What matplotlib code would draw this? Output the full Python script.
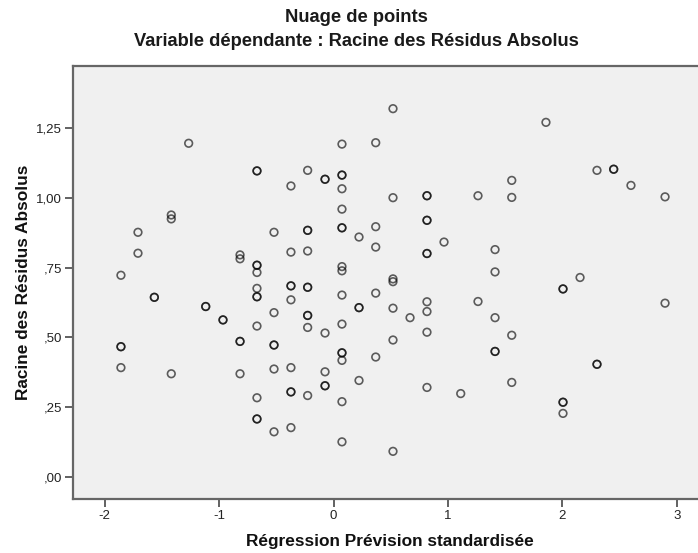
import matplotlib
matplotlib.use("Agg")
import matplotlib.pyplot as plt

title = "Nuage de points"
subtitle = "Variable dépendante : Racine des Résidus Absolus"
x_label = "Régression Prévision standardisée"
y_label = "Racine des Résidus Absolus"

x_ticks = [-2, -1, 0, 1, 2, 3]
x_tick_labels = ["-2", "-1", "0", "1", "2", "3"]
y_ticks = [0.0, 0.25, 0.5, 0.75, 1.0, 1.25]
y_tick_labels = [",00", ",25", ",50", ",75", "1,00", "1,25"]

# Standardized predicted values (distinct columns) and the
# sqrt(|residual|) values observed at each (repeats = overlapping points)
pred_columns = [
    -1.858, -1.709, -1.566, -1.418, -1.266, -1.117, -0.966, -0.817,
    -0.669, -0.520, -0.372, -0.226, -0.074, 0.074, 0.223, 0.369,
    0.520, 0.669, 0.817, 0.966, 1.112, 1.263, 1.412, 1.558,
    1.857, 2.006, 2.155, 2.303, 2.449, 2.600, 2.898,
]
resid_values = [
    [0.723, 0.467, 0.467, 0.392],
    [0.877, 0.802],
    [0.644, 0.644],
    [0.939, 0.925, 0.370],
    [1.196],
    [0.611, 0.611],
    [0.563, 0.563],
    [0.796, 0.782, 0.486, 0.486, 0.370],
    [1.097, 1.097, 0.759, 0.759, 0.733, 0.676, 0.646, 0.646, 0.541, 0.284, 0.208, 0.208],
    [0.877, 0.589, 0.473, 0.473, 0.387, 0.162],
    [1.043, 0.806, 0.685, 0.685, 0.635, 0.392, 0.305, 0.305, 0.177],
    [1.099, 0.884, 0.884, 0.810, 0.680, 0.680, 0.579, 0.579, 0.536, 0.292],
    [1.067, 1.067, 0.516, 0.377, 0.327, 0.327],
    [1.193, 1.082, 1.082, 1.033, 0.960, 0.893, 0.893, 0.754, 0.739, 0.652,
     0.548, 0.445, 0.445, 0.418, 0.270, 0.126],
    [0.860, 0.607, 0.607, 0.346],
    [1.198, 0.897, 0.824, 0.659, 0.430],
    [1.320, 1.001, 0.710, 0.700, 0.605, 0.491, 0.092],
    [0.571],
    [1.008, 1.008, 0.920, 0.920, 0.801, 0.801, 0.628, 0.593, 0.519, 0.321],
    [0.842],
    [0.299],
    [1.008, 0.629],
    [0.815, 0.735, 0.571, 0.450, 0.450],
    [1.063, 1.002, 0.508, 0.339],
    [1.271],
    [0.674, 0.674, 0.268, 0.268, 0.228],
    [0.715],
    [1.099, 0.404, 0.404],
    [1.103, 1.103],
    [1.045],
    [1.004, 0.623],
]

xs, ys = [], []
for xc, vals in zip(pred_columns, resid_values):
    for v in vals:
        xs.append(xc)
        ys.append(v)

W, H = 698, 553
fig = plt.figure(figsize=(W / 100, H / 100), dpi=100)
fig.patch.set_facecolor("white")

left, right, top, bottom = 73, 698, 65.7, 498.5
ax = fig.add_axes([left / W, 1 - bottom / H, (right - left) / W, (bottom - top) / H])
ax.set_facecolor("#f0f0f0")

ax.scatter(xs, ys, s=30, facecolors="none", edgecolors=(0, 0, 0, 0.62),
           linewidths=1.2, zorder=3)

ax.set_xlim(-2.277, 3.186)
ax.set_ylim(-0.077, 1.474)

narrow = ["Liberation Sans Narrow", "Liberation Sans", "DejaVu Sans"]
regular = ["Liberation Sans", "DejaVu Sans"]

ax.set_xticks(x_ticks)
ax.set_xticklabels(x_tick_labels, family=narrow, fontsize=9.5, color="#222222")
ax.set_yticks(y_ticks)
ax.set_yticklabels(y_tick_labels, family=narrow, fontsize=9.5, color="#222222")
ax.tick_params(direction="out", length=6, width=1.3, color="#555555", pad=2)

for s in ["left", "bottom", "top"]:
    ax.spines[s].set_color("#666666")
    ax.spines[s].set_linewidth(1.6)
ax.spines["right"].set_visible(False)

ax.set_xlabel(x_label, family=narrow, fontsize=12.4, fontweight="bold",
              color="#111111")
ax.set_ylabel(y_label, family=narrow, fontsize=12.4, fontweight="bold",
              color="#111111")
ax.xaxis.set_label_coords((390 - left) / (right - left), -(534 - bottom) / (bottom - top))
ax.yaxis.set_label_coords(-(left - 31) / (right - left), 0.5)

fig.text(356 / W, 1 - 18 / H, title, family=regular, fontsize=13.2,
         fontweight="bold", ha="center", va="center", color="#1a1a1a")
fig.text(356 / W, 1 - 42 / H, subtitle, family=regular, fontsize=13.2,
         fontweight="bold", ha="center", va="center", color="#1a1a1a")

fig.savefig("out.png", dpi=100)
